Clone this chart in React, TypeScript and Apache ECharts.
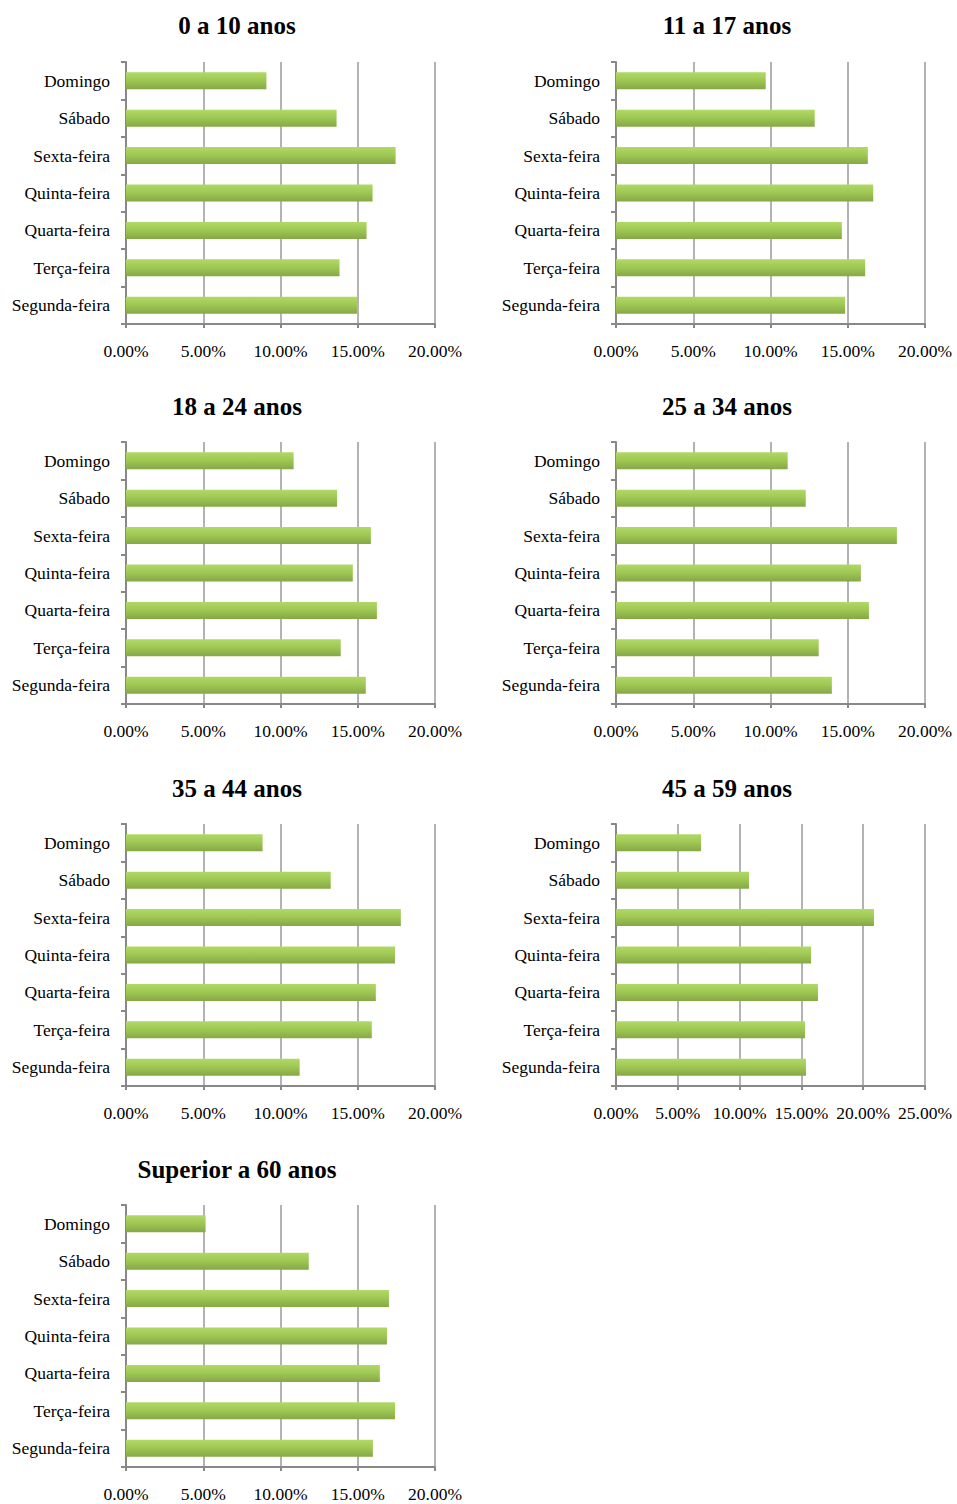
import React, { useEffect, useRef } from "react";
import * as echarts from "echarts";

const days = ["Segunda-feira", "Terça-feira", "Quarta-feira", "Quinta-feira", "Sexta-feira", "Sábado", "Domingo"];

const titles = ["0 a 10 anos", "11 a 17 anos", "18 a 24 anos", "25 a 34 anos", "35 a 44 anos", "45 a 59 anos", "Superior a 60 anos"];

const g0_10 = [14.95, 13.82, 15.57, 15.96, 17.45, 13.63, 9.09];
const g11_17 = [14.83, 16.13, 14.62, 16.65, 16.3, 12.86, 9.69];
const g18_24 = [15.52, 13.9, 16.24, 14.68, 15.85, 13.66, 10.85];
const g25_34 = [13.97, 13.12, 16.37, 15.85, 18.18, 12.28, 11.11];
const g35_44 = [11.24, 15.91, 16.17, 17.41, 17.79, 13.25, 8.84];
const g45_59 = [15.37, 15.29, 16.34, 15.78, 20.87, 10.76, 6.88];
const g60 = [15.98, 17.41, 16.43, 16.89, 17.02, 11.83, 5.15];

const seriesData = [g0_10, g11_17, g18_24, g25_34, g35_44, g45_59, g60];
const axisMax = [20, 20, 20, 20, 20, 25, 20];

const FONT = "'Liberation Serif', 'Times New Roman', serif";
const AXIS_COLOR = "#888888";
const GRID_COLOR = "#9a9a9a";

export default function App() {
  const ref = useRef<HTMLDivElement>(null);

  useEffect(() => {
    if (!ref.current) return;
    const chart = echarts.init(ref.current, null, { renderer: "svg" });

    const colLeft = [126, 616];
    const titleCenter = [237, 727];
    const gridTop = [62, 442, 824, 1205];
    const titleTop = [13, 394, 776, 1157];

    const title: any[] = [];
    const grid: any[] = [];
    const xAxis: any[] = [];
    const yAxis: any[] = [];
    const series: any[] = [];

    seriesData.forEach((data, i) => {
      const col = i % 2;
      const row = Math.floor(i / 2);
      title.push({
        text: titles[i],
        left: titleCenter[col],
        top: titleTop[row],
        padding: 0,
        textAlign: "center",
        textStyle: { fontFamily: FONT, fontSize: 25, fontWeight: "bold", color: "#000" },
      });
      grid.push({ left: colLeft[col], top: gridTop[row], width: 309, height: 262, containLabel: false });
      xAxis.push({
        type: "value",
        gridIndex: i,
        min: 0,
        max: axisMax[i],
        interval: 5,
        axisLine: { show: true, lineStyle: { color: AXIS_COLOR, width: 2 } },
        axisTick: { show: true, length: 4, lineStyle: { color: AXIS_COLOR, width: 2 } },
        splitLine: { show: true, lineStyle: { color: GRID_COLOR, width: 1.5 } },
        axisLabel: {
          fontFamily: FONT,
          fontSize: 17.5,
          color: "#000",
          margin: 18,
          formatter: (v: number) => v.toFixed(2) + "%",
        },
      });
      yAxis.push({
        type: "category",
        gridIndex: i,
        data: days,
        axisLine: { show: true, lineStyle: { color: AXIS_COLOR, width: 2 } },
        axisTick: { show: true, length: 5, lineStyle: { color: AXIS_COLOR, width: 2 } },
        axisLabel: { fontFamily: FONT, fontSize: 17.5, color: "#000", margin: 16 },
        splitLine: { show: false },
      });
      series.push({
        type: "bar",
        xAxisIndex: i,
        yAxisIndex: i,
        data,
        barWidth: 17,
        itemStyle: {
          color: new echarts.graphic.LinearGradient(0, 0, 0, 1, [
            { offset: 0, color: "#b0d965" },
            { offset: 0.5, color: "#9dc653" },
            { offset: 1, color: "#86a845" },
          ]),
        },
      });
    });

    chart.setOption({
      animation: false,
      backgroundColor: "#ffffff",
      title,
      grid,
      xAxis,
      yAxis,
      series,
    });

    return () => chart.dispose();
  }, []);

  return (
    <div
      ref={ref}
      style={{ position: "absolute", left: 0, top: 0, width: 957, height: 1504, background: "#fff" }}
    />
  );
}
